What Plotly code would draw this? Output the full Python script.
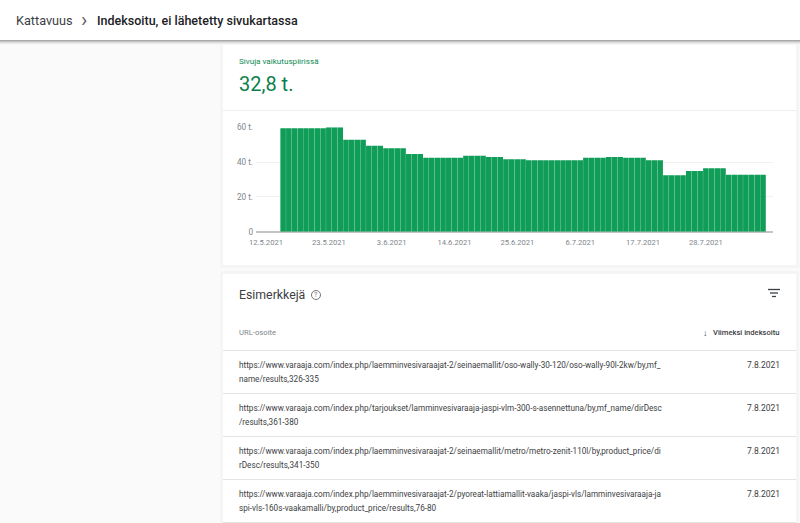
import datetime
import plotly.graph_objects as go

# runs of equal daily values
run_days = [8, 3, 4, 3, 4, 3, 7, 4, 3, 4, 10, 4, 3, 4, 3, 4, 3, 4, 7]
run_values = [59400, 60000, 52900, 49400, 47900, 44700, 42500, 43700, 43000, 41600,
              41000, 42500, 43000, 42500, 41000, 32400, 34900, 36400, 32800]
first_day = datetime.date(2021, 5, 15)

x_tick_dates = ["2021-05-12", "2021-05-23", "2021-06-03", "2021-06-14",
                "2021-06-25", "2021-07-06", "2021-07-17", "2021-07-28"]
x_tick_labels = ["12.5.2021", "23.5.2021", "3.6.2021", "14.6.2021",
                 "25.6.2021", "6.7.2021", "17.7.2021", "28.7.2021"]
y_tick_vals = [0, 20000, 40000, 60000]
y_tick_labels = ["0", "20 t.", "40 t.", "60 t."]

url_lines = [
    ["https://www.varaaja.com/index.php/laemminvesivaraajat-2/seinaemallit/oso-wally-30-120/oso-wally-90l-2kw/by,mf_",
     "name/results,326-335"],
    ["https://www.varaaja.com/index.php/tarjoukset/lamminvesivaraaja-jaspi-vlm-300-s-asennettuna/by,mf_name/dirDesc",
     "/results,361-380"],
    ["https://www.varaaja.com/index.php/laemminvesivaraajat-2/seinaemallit/metro/metro-zenit-110l/by,product_price/di",
     "rDesc/results,341-350"],
    ["https://www.varaaja.com/index.php/laemminvesivaraajat-2/pyoreat-lattiamallit-vaaka/jaspi-vls/lamminvesivaraaja-ja",
     "spi-vls-160s-vaakamalli/by,product_price/results,76-80"],
]
url_dates = ["7.8.2021", "7.8.2021", "7.8.2021", "7.8.2021"]

W, H = 800, 523
FONT = "Roboto"
GREEN = "#0f9d58"

days = []
values = []
day = first_day
for n, v in zip(run_days, run_values):
    for i in range(n):
        days.append(day.isoformat())
        values.append(v)
        day += datetime.timedelta(days=1)


def px(x):
    return x / W


def py(y):
    return 1 - y / H


def rect(x0, y0, x1, y1, color):
    return dict(type="rect", xref="paper", yref="paper", x0=px(x0), x1=px(x1), y0=py(y0), y1=py(y1),
                fillcolor=color, line_width=0, layer="below")


def hline(x0, x1, y, color, width=1):
    return dict(type="line", xref="paper", yref="paper", x0=px(x0), x1=px(x1), y0=py(y), y1=py(y),
                line=dict(color=color, width=width), layer="below")


def label(x, y, text, size, color, anchor="left", weight=400):
    return dict(xref="paper", yref="paper", x=px(x), y=py(y), text=text, showarrow=False,
                xanchor=anchor, yanchor="middle", borderpad=0,
                font=dict(family=FONT, size=size, color=color, weight=weight))


shapes = []
# card shadows
for i, c in enumerate(["#ececec", "#f0f0f0", "#f5f5f5"]):
    shapes.append(rect(222 - i, 40, 797 + i, 266 + i, c))
    shapes.append(rect(222 - i, 273 - i, 797 + i, 523, c))
shapes.append(rect(223, 40, 796, 265, "white"))
shapes.append(rect(223, 274, 796, 523, "white"))
shapes.append(hline(223, 796, 110.5, "#eeeeee"))
# header with its shadow
for i, c in enumerate(["#a8a8a8", "#c4c4c4", "#dcdcdc", "#ececec", "#f6f6f6"]):
    shapes.append(rect(0, 40 + i, 800, 41 + i, c))
shapes.append(rect(0, 0, 800, 40, "white"))
# table rules
for y in [350.5, 393.5, 436.5, 479.5, 522.5]:
    shapes.append(hline(223, 796, y, "#e4e4e4"))
# help icon
shapes.append(dict(type="circle", xref="paper", yref="paper", x0=px(311.5), x1=px(320.5), y0=py(299.5), y1=py(290.5),
                   line=dict(color="#757575", width=1), layer="below"))
# filter icon
shapes.append(hline(768, 780, 289.5, "#3c4043", 1.3))
shapes.append(hline(770, 778, 293, "#3c4043", 1.3))
shapes.append(hline(772, 776, 296.5, "#3c4043", 1.3))

annotations = [
    label(14.5, 20.5, "Kattavuus", 12.7, "#3c4043"),
    label(83.5, 19.5, "&#8250;", 21, "#5f6368", anchor="center"),
    label(95.5, 20.5, "Indeksoitu, ei lähetetty sivukartassa", 12.5, "#202124", weight=500),
    label(237.5, 61, "Sivuja vaikutuspiirissä", 8.1, "#0d8a52"),
    label(237.5, 84, "32,8 t.", 20, "#0d7f4c"),
    label(237.5, 295, "Esimerkkejä", 12.3, "#3c4043"),
    label(316, 295, "?", 7, "#757575", anchor="center"),
    label(237.5, 332.5, "URL-osoite", 7.7, "#80868b"),
    label(705, 332.5, "&#8595;", 9, "#3c4043", anchor="center"),
    label(781, 332.5, "Viimeksi indeksoitu", 7.6, "#3c4043", anchor="right", weight=500),
]
for lines, date, y in zip(url_lines, url_dates, [365, 408, 451, 494]):
    annotations.append(label(237.5, y, lines[0], 8.17, "#3c4043"))
    annotations.append(label(237.5, y + 13.5, lines[1], 8.17, "#3c4043"))
    annotations.append(label(781, y, date, 8.5, "#3c4043", anchor="right"))

fig = go.Figure(go.Bar(x=days, y=values, marker_color=GREEN, marker_line_width=0))

fig.update_layout(
    width=W, height=H,
    margin=dict(l=0, r=0, t=0, b=0),
    paper_bgcolor="#fafafa", plot_bgcolor="rgba(0,0,0,0)",
    showlegend=False, bargap=0.03,
    font=dict(family=FONT),
    shapes=shapes, annotations=annotations,
)
fig.update_xaxes(
    domain=[px(256), px(773)], type="date", automargin=False,
    range=["2021-05-10 06:00", "2021-08-08 18:00"],
    tickvals=x_tick_dates, ticktext=x_tick_labels,
    tickfont=dict(size=7.6, color="#80868b", family=FONT), ticklabelstandoff=5,
    ticks="", showgrid=False, showline=False, zeroline=False, tickangle=0,
)
fig.update_yaxes(
    domain=[py(231.7), py(127.3)], range=[0, 60000], automargin=False,
    tickvals=y_tick_vals, ticktext=y_tick_labels,
    tickfont=dict(size=8.2, color="#80868b", family=FONT), ticklabelstandoff=2,
    ticks="", gridcolor="#f1f1f1", gridwidth=1,
    zeroline=True, zerolinecolor="#c4c4c4", zerolinewidth=1.5, showline=False,
)

fig.write_html("out.html", config={"displayModeBar": False},
               post_script="document.body.style.margin='0';")
